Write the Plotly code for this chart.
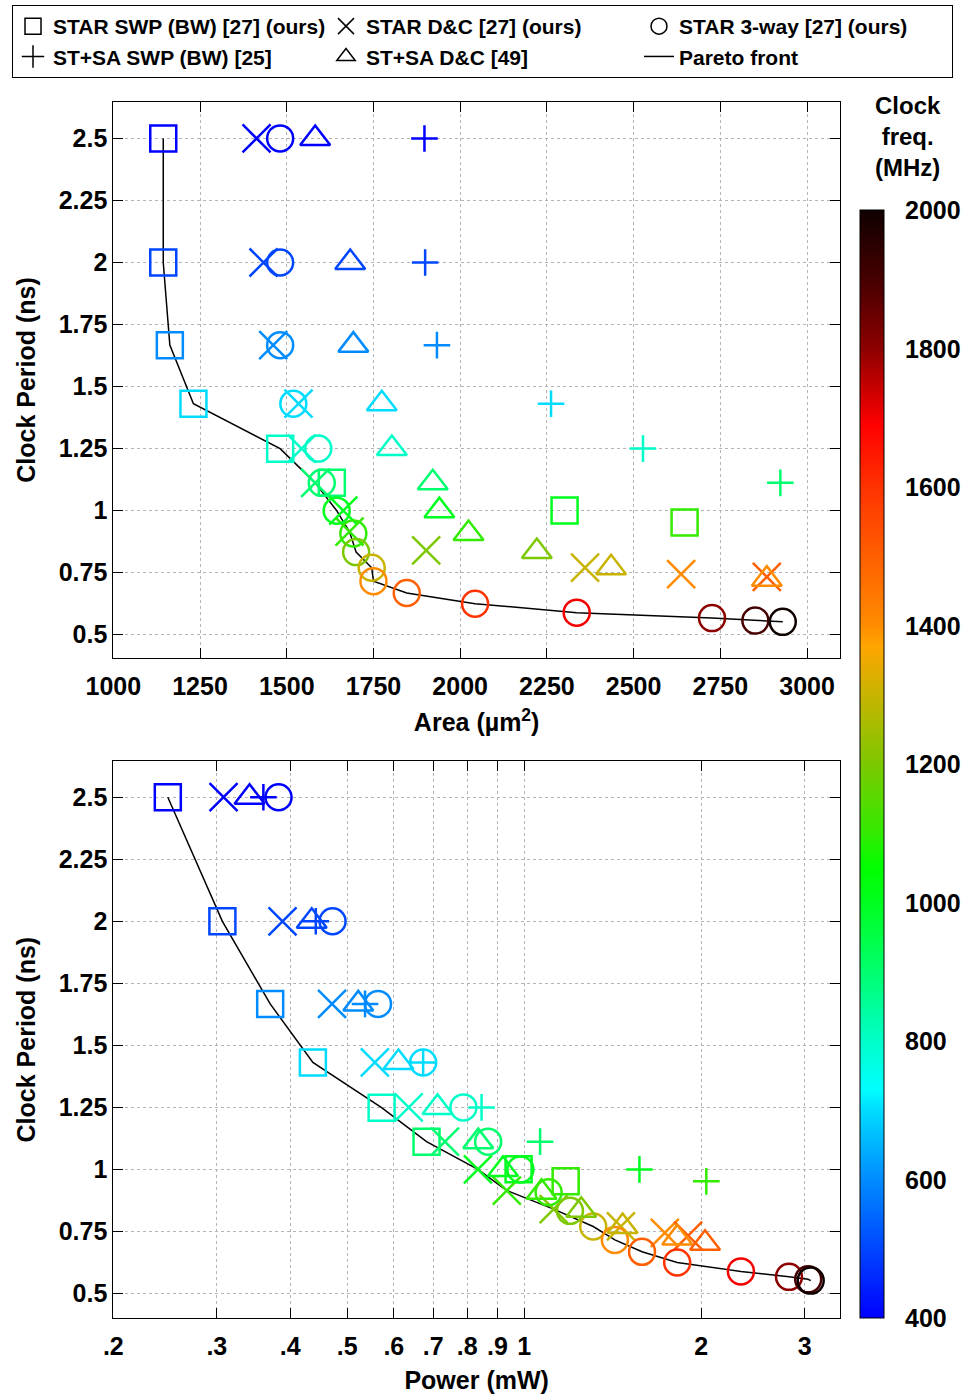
import math
import plotly.graph_objects as go

FONT = "Liberation Sans, Arial, Helvetica, sans-serif"

# ---------------- data ----------------
# STAR SWP (BW) [27] (ours)  -- squares
swp_freq   = [400, 500, 600, 700, 800, 900, 1000, 1100]
swp_period = [2.5, 2.0, 1.667, 1.431, 1.249, 1.112, 1.001, 0.952]
swp_area   = [1144, 1144, 1163, 1231, 1481, 1630, 2301, 2647]
swp_power  = [0.2476, 0.3066, 0.3697, 0.437, 0.572, 0.682, 0.978, 1.176]

# STAR D&C [27] (ours)  -- x
dc_freq   = [400, 500, 600, 700, 800, 900, 1000, 1100, 1200, 1300, 1400, 1500]
dc_period = [2.5, 2.0, 1.667, 1.431, 1.25, 1.112, 1.0, 0.915, 0.84, 0.77, 0.744, 0.733]
dc_area   = [1413, 1433, 1461, 1534, 1543, 1582, 1663, 1681, 1902, 2360, 2637, 2884]
dc_power  = [0.308, 0.388, 0.471, 0.557, 0.636, 0.733, 0.834, 0.934, 1.122, 1.46, 1.734, 1.90]

# STAR 3-way [27] (ours)  -- circles
tw_freq   = [400, 500, 600, 700, 800, 900, 1000, 1100, 1200, 1300, 1400, 1500,
             1600, 1700, 1800, 1900, 2000]
tw_period = [2.5, 2.0, 1.667, 1.431, 1.25, 1.112, 1.0, 0.908, 0.833, 0.77, 0.716,
             0.668, 0.625, 0.589, 0.567, 0.557, 0.552]
tw_area   = [1481, 1481, 1481, 1519, 1591, 1601, 1644, 1692, 1700, 1745, 1750,
             1846, 2043, 2336, 2726, 2851, 2930]
tw_power  = [0.382, 0.472, 0.564, 0.673, 0.788, 0.868, 0.985, 1.10, 1.196, 1.31,
             1.426, 1.586, 1.82, 2.336, 2.82, 3.04, 3.07]

# ST+SA SWP (BW) [25]  -- plus (last two off the area axis)
ss_freq   = [400, 500, 600, 700, 800, 900, 1000, 1100]
ss_period = [2.5, 2.0, 1.667, 1.431, 1.25, 1.112, 1.0, 0.952]
ss_area   = [1897, 1899, 1933, 2262, 2527, 2923, None, None]
ss_power  = [0.36, 0.442, 0.536, 0.673, 0.846, 1.064, 1.57, 2.04]

# ST+SA D&C [49]  -- triangles (last one off the area axis)
sd_freq   = [400, 500, 600, 700, 800, 900, 1000, 1100, 1200, 1300, 1400, 1500]
sd_period = [2.5, 2.0, 1.667, 1.431, 1.25, 1.112, 1.0, 0.908, 0.835, 0.77, 0.724, 0.702]
sd_area   = [1582, 1683, 1692, 1774, 1803, 1921, 1940, 2024, 2221, 2435, 2884, None]
sd_power  = [0.341, 0.435, 0.522, 0.611, 0.712, 0.835, 0.92, 1.07, 1.25, 1.47, 1.82, 2.03]

# Pareto fronts
par_area        = [1144, 1144, 1163, 1231, 1481, 1582, 1644, 1681, 1700, 1745, 1750,
                   1846, 2043, 2336, 2726, 2851, 2930]
par_area_period = [2.5, 2.0, 1.667, 1.431, 1.25, 1.112, 1.0, 0.915, 0.833, 0.77, 0.716,
                   0.668, 0.625, 0.589, 0.567, 0.557, 0.552]
par_power        = [0.2476, 0.3066, 0.3697, 0.437, 0.572, 0.682, 0.834, 0.934, 1.122,
                    1.31, 1.426, 1.586, 1.82, 2.336, 2.82, 3.04, 3.07]
par_power_period = [2.5, 2.0, 1.667, 1.431, 1.249, 1.112, 1.0, 0.915, 0.84, 0.77,
                    0.716, 0.668, 0.625, 0.589, 0.567, 0.557, 0.552]

# tick labels
period_ticks = [0.5, 0.75, 1, 1.25, 1.5, 1.75, 2, 2.25, 2.5]
period_labels = ["0.5", "0.75", "1", "1.25", "1.5", "1.75", "2", "2.25", "2.5"]
area_ticks = [1000, 1250, 1500, 1750, 2000, 2250, 2500, 2750, 3000]
area_labels = ["1000", "1250", "1500", "1750", "2000", "2250", "2500", "2750", "3000"]
power_ticks = [0.2, 0.3, 0.4, 0.5, 0.6, 0.7, 0.8, 0.9, 1, 2, 3]
power_labels = [".2", ".3", ".4", ".5", ".6", ".7", ".8", ".9", "1", "2", "3"]
freq_ticks = [400, 600, 800, 1000, 1200, 1400, 1600, 1800, 2000]

# colour map (MHz -> colour)
cmap_vals = [400, 500, 600, 700, 730, 800, 900, 1000, 1050, 1100, 1200, 1300,
             1370, 1400, 1500, 1600, 1690, 1800, 1900, 2000]
cmap_cols = ["rgb(0,0,255)", "rgb(0,70,255)", "rgb(0,140,255)", "rgb(0,220,255)",
             "rgb(0,255,255)", "rgb(0,255,200)", "rgb(0,255,110)", "rgb(0,255,30)",
             "rgb(0,255,0)", "rgb(50,235,0)", "rgb(125,200,0)", "rgb(200,180,0)",
             "rgb(255,165,0)", "rgb(255,140,0)", "rgb(255,95,0)", "rgb(255,50,0)",
             "rgb(255,0,0)", "rgb(140,0,0)", "rgb(70,0,0)", "rgb(15,0,0)"]
FMIN, FMAX = 400, 2000
colorscale = [[(v - FMIN) / (FMAX - FMIN), c] for v, c in zip(cmap_vals, cmap_cols)]

# ---------------- geometry (pixels) ----------------
W, H = 965, 1394

def fx(p):
    return p / W

def fy(p):
    return 1 - p / H

fig = go.Figure()

series = [
    ("STAR SWP (BW) [27] (ours)", "square-open", 26, swp_freq, swp_period, swp_area, swp_power),
    ("STAR D&C [27] (ours)", "x-thin-open", 28, dc_freq, dc_period, dc_area, dc_power),
    ("STAR 3-way [27] (ours)", "circle-open", 26, tw_freq, tw_period, tw_area, tw_power),
    ("ST+SA SWP (BW) [25]", "cross-thin-open", 19, ss_freq, ss_period, ss_area, ss_power),
    ("ST+SA D&C [49]", "triangle-up-open", 26, sd_freq, sd_period, sd_area, sd_power),
]

# pareto lines
fig.add_trace(go.Scatter(x=par_area, y=par_area_period, mode="lines",
                         line=dict(color="black", width=1.5), showlegend=False,
                         xaxis="x", yaxis="y"))
fig.add_trace(go.Scatter(x=par_power, y=par_power_period, mode="lines",
                         line=dict(color="black", width=1.5), showlegend=False,
                         xaxis="x2", yaxis="y2"))

for name, sym, size, f, t, a, p in series:
    mk = dict(symbol=sym, size=size, color=f, coloraxis="coloraxis",
              line=dict(width=2.5))
    fig.add_trace(go.Scatter(x=a, y=t, mode="markers", marker=mk, showlegend=False,
                             xaxis="x", yaxis="y", name=name))
    fig.add_trace(go.Scatter(x=p, y=t, mode="markers", marker=mk, showlegend=False,
                             xaxis="x2", yaxis="y2", name=name))

# legend entries (black symbols)
for name, sym, size, *_ in series:
    fig.add_trace(go.Scatter(x=[None], y=[None], mode="markers", name=name,
                             marker=dict(symbol=sym, size=20, color="black",
                                         line=dict(width=1.5, color="black")),
                             xaxis="x", yaxis="y"))
fig.add_trace(go.Scatter(x=[None], y=[None], mode="lines", name="Pareto front",
                         line=dict(color="black", width=1.5), xaxis="x", yaxis="y"))

tickfont = dict(family=FONT, size=25, color="black", weight="bold")
titlefont = dict(family=FONT, size=25, color="black", weight="bold")
axis_common = dict(showline=True, linecolor="black", linewidth=1, mirror="ticks",
                   ticks="inside", ticklen=10, tickcolor="black", tickwidth=1,
                   showgrid=True, gridcolor="#b4b4b4", griddash="dot", gridwidth=1,
                   zeroline=False, tickfont=tickfont, automargin=False)

xdom = [fx(113.3), fx(840)]
fig.update_layout(
    width=W, height=H,
    margin=dict(l=0, r=0, t=0, b=0, pad=0),
    paper_bgcolor="white", plot_bgcolor="white",
    font=dict(family=FONT, size=25, color="black", weight="bold"),
    xaxis=dict(domain=xdom, range=[1000, 3095], tickvals=area_ticks, ticktext=area_labels,
               anchor="y", ticklabelstandoff=6,
               title=dict(text="Area (µm<sup>2</sup>)", standoff=14, font=titlefont),
               **axis_common),
    yaxis=dict(domain=[fy(658.3), fy(101.7)], range=[0.405, 2.648],
               tickvals=period_ticks, ticktext=period_labels, anchor="x",
               title=dict(text="Clock Period (ns)", standoff=15, font=titlefont),
               **axis_common),
    xaxis2=dict(domain=xdom, type="log", range=[math.log10(0.2), 0.537],
                tickvals=power_ticks, ticktext=power_labels, anchor="y2",
                ticklabelstandoff=6,
                title=dict(text="Power (mW)", standoff=17, font=titlefont),
                **axis_common),
    yaxis2=dict(domain=[fy(1318.3), fy(761)], range=[0.4, 2.646],
                tickvals=period_ticks, ticktext=period_labels, anchor="x2",
                title=dict(text="Clock Period (ns)", standoff=15, font=titlefont),
                **axis_common),
    coloraxis=dict(cmin=FMIN, cmax=FMAX, colorscale=colorscale,
                   colorbar=dict(x=fx(860), xanchor="left", xpad=0,
                                 y=fy(1318.3), yanchor="bottom", ypad=0,
                                 len=(1318.3 - 210) / H, lenmode="fraction",
                                 thickness=24, thicknessmode="pixels",
                                 outlinecolor="black", outlinewidth=1,
                                 tickvals=freq_ticks, ticks="outside", ticklen=16,
                                 tickcolor="rgba(0,0,0,0)",
                                 tickfont=dict(family=FONT, size=25, color="black",
                                               weight="bold"))),
    legend=dict(x=fx(12), y=fy(5), xanchor="left", yanchor="top",
                orientation="h", entrywidth=268, entrywidthmode="pixels",
                bordercolor="black", borderwidth=1, bgcolor="white",
                font=dict(family=FONT, size=21, color="black", weight="bold"),
                itemsizing="trace", tracegroupgap=0),
    showlegend=True,
)

fig.add_annotation(text="Clock<br>freq.<br>(MHz)", x=fx(908), y=fy(137),
                   xref="paper", yref="paper", xanchor="center", yanchor="middle",
                   showarrow=False,
                   font=dict(family=FONT, size=24, color="black", weight="bold"))

fig.write_html("out.html")
